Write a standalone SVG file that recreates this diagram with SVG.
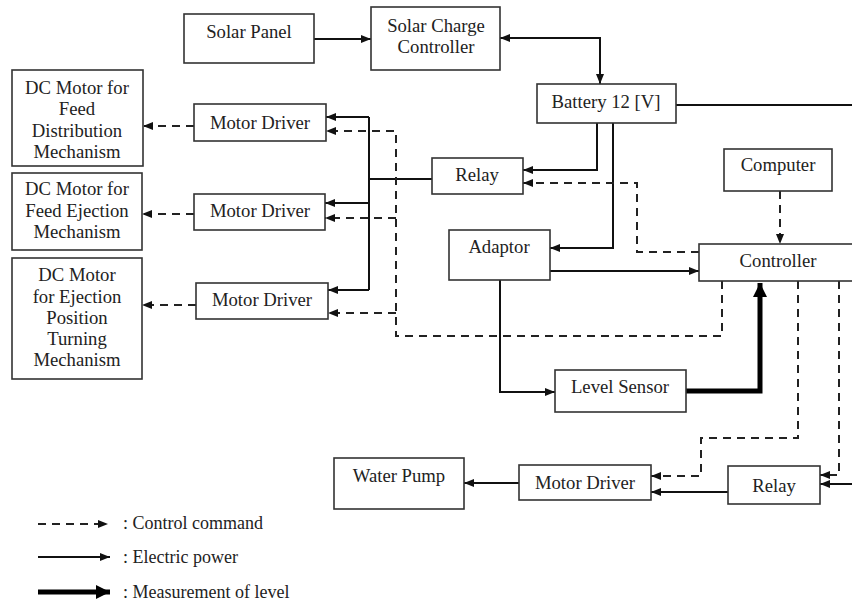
<svg xmlns="http://www.w3.org/2000/svg" width="852" height="603" viewBox="0 0 852 603">
<style>
.box{fill:#fff;stroke:#333;stroke-width:1.6}
.t{font-family:'Liberation Serif','Tinos','DejaVu Serif',serif;font-size:18.7px;fill:#222;text-anchor:middle}
.tl{font-family:'Liberation Serif','Tinos','DejaVu Serif',serif;font-size:18px;fill:#222}
.p{fill:none;stroke:#111;stroke-width:2}
.d{fill:none;stroke:#222;stroke-width:2;stroke-dasharray:8 6}
.k{fill:none;stroke:#000;stroke-width:5}
</style>
<defs>
<marker id="a" markerUnits="userSpaceOnUse" markerWidth="10" markerHeight="8" refX="10" refY="4" orient="auto"><path d="M0,0 L10,4 L0,8 z" fill="#111"/></marker>
<marker id="as" markerUnits="userSpaceOnUse" markerWidth="10" markerHeight="8" refX="0" refY="4" orient="auto"><path d="M10,0 L0,4 L10,8 z" fill="#111"/></marker>
<marker id="ak" markerUnits="userSpaceOnUse" markerWidth="14" markerHeight="14" refX="14" refY="7" orient="auto"><path d="M0,0 L14,7 L0,14 z" fill="#000"/></marker>
</defs>
<g id="connectors">
<path class="p" d="M314,39 H371" marker-end="url(#a)"/>
<path class="p" d="M500,38 H600 V84" marker-start="url(#as)" marker-end="url(#a)"/>
<path class="p" d="M676,105 H870 V484 H820" marker-end="url(#a)"/>
<path class="p" d="M597,123 V170 H523" marker-end="url(#a)"/>
<path class="p" d="M613,123 V248 H550" marker-end="url(#a)"/>
<path class="p" d="M432,179 H369"/>
<path class="p" d="M369,117 V290"/>
<path class="p" d="M369,117 H326" marker-end="url(#a)"/>
<path class="p" d="M369,203 H325" marker-end="url(#a)"/>
<path class="p" d="M369,290 H328" marker-end="url(#a)"/>
<path class="d" d="M699,252 H637 V183 H523" marker-end="url(#a)"/>
<path class="d" d="M722,281 V336 H396 V131 H326" marker-end="url(#a)"/>
<path class="d" d="M396,218 H325" marker-end="url(#a)"/>
<path class="d" d="M396,313 H328" marker-end="url(#a)"/>
<path class="d" d="M194,126 H143" marker-end="url(#a)"/>
<path class="d" d="M194,214 H142" marker-end="url(#a)"/>
<path class="d" d="M196,305 H142" marker-end="url(#a)"/>
<path class="d" d="M780,191 V244" marker-end="url(#a)"/>
<path class="p" d="M550,271 H699" marker-end="url(#a)"/>
<path class="p" d="M500,280 V392 H555" marker-end="url(#a)"/>
<path class="k" d="M686,391 H760 V283" marker-end="url(#ak)"/>
<path class="d" d="M798,281 V438 H701 V476 H651" marker-end="url(#a)"/>
<path class="d" d="M839,281 V475 H820" marker-end="url(#a)"/>
<path class="p" d="M728,492 H651" marker-end="url(#a)"/>
<path class="p" d="M519,483 H464" marker-end="url(#a)"/>
</g>
<g id="solar-panel"><rect class="box" x="184" y="14" width="130" height="49"/><text class="t" x="249" y="38">Solar Panel</text></g>
<g id="solar-charge-controller"><rect class="box" x="371" y="7" width="129" height="63"/><text class="t" x="436" y="32">Solar Charge</text><text class="t" x="436" y="53">Controller</text></g>
<g id="battery"><rect class="box" x="537" y="84" width="139" height="39"/><text class="t" x="606" y="108">Battery 12 [V]</text></g>
<g id="relay-top"><rect class="box" x="432" y="158" width="91" height="36"/><text class="t" x="477" y="181">Relay</text></g>
<g id="computer"><rect class="box" x="724" y="149" width="108" height="42"/><text class="t" x="778" y="171">Computer</text></g>
<g id="controller"><rect class="box" x="699" y="244" width="160" height="37"/><text class="t" x="778" y="267">Controller</text></g>
<g id="adaptor"><rect class="box" x="449" y="230" width="101" height="50"/><text class="t" x="499" y="253">Adaptor</text></g>
<g id="level-sensor"><rect class="box" x="555" y="370" width="131" height="42"/><text class="t" x="620" y="393">Level Sensor</text></g>
<g id="motor-driver-1"><rect class="box" x="194" y="104" width="132" height="37"/><text class="t" x="260" y="129">Motor Driver</text></g>
<g id="motor-driver-2"><rect class="box" x="194" y="194" width="131" height="36"/><text class="t" x="260" y="217">Motor Driver</text></g>
<g id="motor-driver-3"><rect class="box" x="196" y="283" width="132" height="36"/><text class="t" x="262" y="306">Motor Driver</text></g>
<g id="dc-motor-1"><rect class="box" x="12" y="70" width="131" height="96"/><text class="t" x="77" y="94">DC Motor for</text><text class="t" x="77" y="115">Feed</text><text class="t" x="77" y="137">Distribution</text><text class="t" x="77" y="158">Mechanism</text></g>
<g id="dc-motor-2"><rect class="box" x="12" y="173" width="130" height="77"/><text class="t" x="77" y="195">DC Motor for</text><text class="t" x="77" y="217">Feed Ejection</text><text class="t" x="77" y="238">Mechanism</text></g>
<g id="dc-motor-3"><rect class="box" x="12" y="258" width="130" height="121"/><text class="t" x="77" y="281">DC Motor</text><text class="t" x="77" y="303">for Ejection</text><text class="t" x="77" y="324">Position</text><text class="t" x="77" y="345">Turning</text><text class="t" x="77" y="366">Mechanism</text></g>
<g id="water-pump"><rect class="box" x="334" y="458" width="130" height="51"/><text class="t" x="399" y="482">Water Pump</text></g>
<g id="motor-driver-4"><rect class="box" x="519" y="465" width="132" height="35"/><text class="t" x="585" y="489">Motor Driver</text></g>
<g id="relay-bottom"><rect class="box" x="728" y="466" width="92" height="38"/><text class="t" x="774" y="492">Relay</text></g>
<g id="legend">
<path class="d" d="M38,524 H108" marker-end="url(#a)"/>
<text class="tl" x="123" y="529">: Control command</text>
<path class="p" d="M38,557 H110" marker-end="url(#a)"/>
<text class="tl" x="123" y="563">: Electric power</text>
<path class="k" d="M38,592 H110" marker-end="url(#ak)"/>
<text class="tl" x="123" y="598">: Measurement of level</text>
</g>
</svg>
